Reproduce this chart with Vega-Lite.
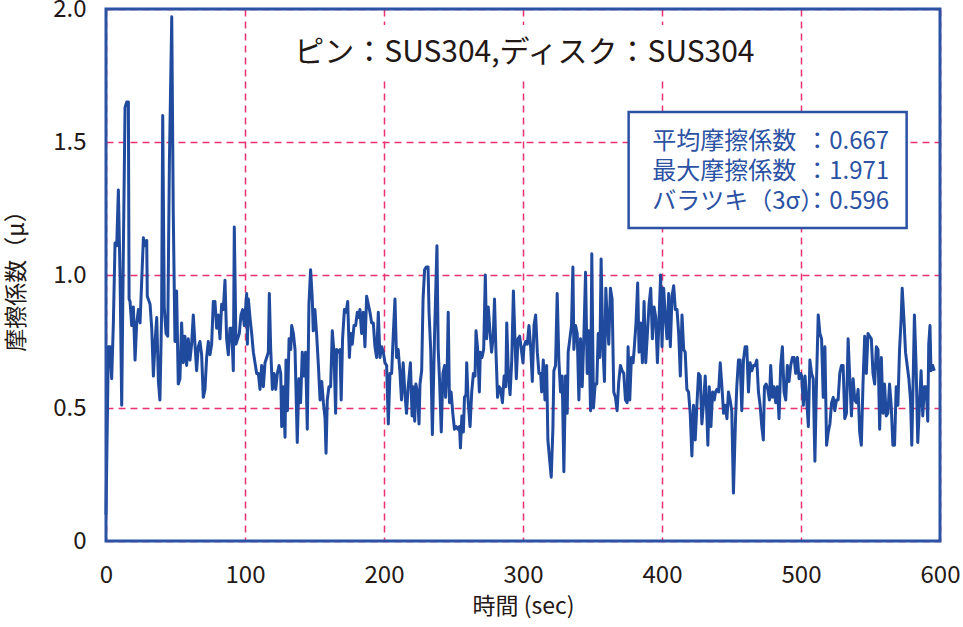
{
  "$schema": "https://vega.github.io/schema/vega-lite/v6.json",
  "width": 834,
  "height": 532,
  "autosize": {"type": "none"},
  "padding": {"left": 106, "top": 9, "right": 23, "bottom": 86},
  "background": "white",
  "config": {
    "view": {"stroke": null},
    "font": "Noto Sans CJK JP",
    "axis": {
      "domain": false,
      "ticks": false,
      "grid": true,
      "gridColor": "#e8336e",
      "gridDash": [7, 5],
      "gridWidth": 1.5,
      "labelFlush": false,
      "labelFont": "Noto Sans CJK JP",
      "labelFontSize": 24,
      "labelColor": "#231815",
      "titleFont": "Noto Sans CJK JP",
      "titleFontSize": 23,
      "titleFontWeight": "normal",
      "titleColor": "#231815"
    }
  },
  "datasets": {
    "friction": [
      {"sec": 0, "mu": 0.10}, {"sec": 1.7, "mu": 0.73}, {"sec": 2.9, "mu": 0.73}, {"sec": 4.1, "mu": 0.61},
      {"sec": 5.3, "mu": 0.82}, {"sec": 6.5, "mu": 1.12}, {"sec": 7.7, "mu": 1.11}, {"sec": 8.9, "mu": 1.32},
      {"sec": 10.1, "mu": 1.00}, {"sec": 11.3, "mu": 0.51}, {"sec": 12.5, "mu": 1.10}, {"sec": 13.7, "mu": 1.63},
      {"sec": 14.9, "mu": 1.65}, {"sec": 16.1, "mu": 1.65}, {"sec": 16.6, "mu": 0.91}, {"sec": 17.3, "mu": 0.90},
      {"sec": 18.5, "mu": 0.81}, {"sec": 19.7, "mu": 0.88}, {"sec": 20.9, "mu": 0.68}, {"sec": 22.1, "mu": 0.82},
      {"sec": 23.3, "mu": 0.87}, {"sec": 24.5, "mu": 0.82}, {"sec": 25.7, "mu": 0.98}, {"sec": 26.9, "mu": 1.14},
      {"sec": 28.1, "mu": 1.11}, {"sec": 29.3, "mu": 1.13}, {"sec": 29.7, "mu": 0.92}, {"sec": 31.7, "mu": 0.89},
      {"sec": 32.9, "mu": 0.80}, {"sec": 34.1, "mu": 0.62}, {"sec": 35.3, "mu": 0.75}, {"sec": 36.5, "mu": 0.84},
      {"sec": 37.7, "mu": 0.60}, {"sec": 38.8, "mu": 0.53}, {"sec": 40.0, "mu": 0.85}, {"sec": 40.8, "mu": 1.60},
      {"sec": 41.9, "mu": 0.88}, {"sec": 43.2, "mu": 0.78}, {"sec": 44.4, "mu": 0.77}, {"sec": 45.6, "mu": 1.42},
      {"sec": 47.3, "mu": 1.971}, {"sec": 48.4, "mu": 1.23}, {"sec": 49.6, "mu": 0.75}, {"sec": 50.8, "mu": 0.94},
      {"sec": 52.0, "mu": 0.59}, {"sec": 53.2, "mu": 0.61}, {"sec": 54.4, "mu": 0.82}, {"sec": 55.6, "mu": 0.67},
      {"sec": 56.8, "mu": 0.77}, {"sec": 58.0, "mu": 0.66}, {"sec": 59.2, "mu": 0.76}, {"sec": 60.4, "mu": 0.68},
      {"sec": 61.6, "mu": 0.74}, {"sec": 62.8, "mu": 0.85}, {"sec": 64.0, "mu": 0.74}, {"sec": 65.2, "mu": 0.64},
      {"sec": 66.4, "mu": 0.73}, {"sec": 67.6, "mu": 0.75}, {"sec": 68.8, "mu": 0.70}, {"sec": 70.0, "mu": 0.54},
      {"sec": 71.2, "mu": 0.57}, {"sec": 72.4, "mu": 0.69}, {"sec": 73.6, "mu": 0.75}, {"sec": 74.8, "mu": 0.70},
      {"sec": 76.0, "mu": 0.74}, {"sec": 77.2, "mu": 0.90}, {"sec": 78.4, "mu": 0.90}, {"sec": 79.6, "mu": 0.80},
      {"sec": 80.8, "mu": 0.85}, {"sec": 82.0, "mu": 0.76}, {"sec": 83.2, "mu": 0.89}, {"sec": 84.4, "mu": 0.87},
      {"sec": 85.6, "mu": 0.98}, {"sec": 86.8, "mu": 0.76}, {"sec": 88.0, "mu": 0.70}, {"sec": 89.2, "mu": 0.80},
      {"sec": 90.4, "mu": 0.80}, {"sec": 91.6, "mu": 0.64}, {"sec": 92.3, "mu": 1.18}, {"sec": 93.5, "mu": 0.74},
      {"sec": 94.7, "mu": 0.76}, {"sec": 95.9, "mu": 0.78}, {"sec": 97.1, "mu": 0.85}, {"sec": 98.3, "mu": 0.87},
      {"sec": 99.5, "mu": 0.81}, {"sec": 101.2, "mu": 0.93}, {"sec": 101.7, "mu": 0.74}, {"sec": 102.4, "mu": 0.91},
      {"sec": 103.6, "mu": 0.84}, {"sec": 104.8, "mu": 0.78}, {"sec": 106.0, "mu": 0.71}, {"sec": 107.2, "mu": 0.67},
      {"sec": 108.4, "mu": 0.63}, {"sec": 109.6, "mu": 0.63}, {"sec": 110.8, "mu": 0.57}, {"sec": 112.0, "mu": 0.66},
      {"sec": 113.2, "mu": 0.58}, {"sec": 114.4, "mu": 0.67}, {"sec": 115.6, "mu": 0.69}, {"sec": 116.8, "mu": 0.71},
      {"sec": 117.5, "mu": 0.93}, {"sec": 118.5, "mu": 0.72}, {"sec": 119.7, "mu": 0.57}, {"sec": 120.9, "mu": 0.63},
      {"sec": 122.1, "mu": 0.57}, {"sec": 123.3, "mu": 0.63}, {"sec": 124.5, "mu": 0.66}, {"sec": 125.7, "mu": 0.63},
      {"sec": 126.4, "mu": 0.43}, {"sec": 127.6, "mu": 0.58}, {"sec": 128.8, "mu": 0.39}, {"sec": 129.5, "mu": 0.68},
      {"sec": 130.5, "mu": 0.49}, {"sec": 131.7, "mu": 0.76}, {"sec": 132.9, "mu": 0.72}, {"sec": 133.6, "mu": 0.81},
      {"sec": 134.8, "mu": 0.78}, {"sec": 136.0, "mu": 0.72}, {"sec": 137.6, "mu": 0.37}, {"sec": 138.8, "mu": 0.61},
      {"sec": 140.0, "mu": 0.52}, {"sec": 141.2, "mu": 0.71}, {"sec": 142.4, "mu": 0.62}, {"sec": 143.6, "mu": 0.71},
      {"sec": 144.8, "mu": 0.42}, {"sec": 146.0, "mu": 0.89}, {"sec": 147.2, "mu": 1.02}, {"sec": 148.4, "mu": 0.91},
      {"sec": 149.1, "mu": 0.79}, {"sec": 150.3, "mu": 0.87}, {"sec": 151.5, "mu": 0.78}, {"sec": 152.8, "mu": 0.66},
      {"sec": 154.0, "mu": 0.53}, {"sec": 155.2, "mu": 0.60}, {"sec": 156.4, "mu": 0.52}, {"sec": 157.6, "mu": 0.46},
      {"sec": 158.3, "mu": 0.33}, {"sec": 159.2, "mu": 0.53}, {"sec": 160.4, "mu": 0.58}, {"sec": 161.6, "mu": 0.58},
      {"sec": 162.8, "mu": 0.79}, {"sec": 164.0, "mu": 0.71}, {"sec": 165.2, "mu": 0.48}, {"sec": 165.9, "mu": 0.72},
      {"sec": 167.1, "mu": 0.71}, {"sec": 168.3, "mu": 0.72}, {"sec": 169.2, "mu": 0.53}, {"sec": 170.2, "mu": 0.76},
      {"sec": 171.5, "mu": 0.87}, {"sec": 172.7, "mu": 0.86}, {"sec": 173.9, "mu": 0.90}, {"sec": 175.1, "mu": 0.69},
      {"sec": 176.0, "mu": 0.78}, {"sec": 177.2, "mu": 0.74}, {"sec": 178.4, "mu": 0.81}, {"sec": 179.6, "mu": 0.81},
      {"sec": 180.8, "mu": 0.86}, {"sec": 182.0, "mu": 0.84}, {"sec": 182.7, "mu": 0.87}, {"sec": 183.9, "mu": 0.78},
      {"sec": 185.1, "mu": 0.86}, {"sec": 186.3, "mu": 0.73}, {"sec": 187.5, "mu": 0.92}, {"sec": 188.7, "mu": 0.89},
      {"sec": 189.9, "mu": 0.86}, {"sec": 191.1, "mu": 0.82}, {"sec": 192.3, "mu": 0.82}, {"sec": 193.5, "mu": 0.73},
      {"sec": 194.7, "mu": 0.69}, {"sec": 195.9, "mu": 0.86}, {"sec": 197.1, "mu": 0.69}, {"sec": 198.3, "mu": 0.73},
      {"sec": 199.5, "mu": 0.71}, {"sec": 200.7, "mu": 0.67}, {"sec": 201.9, "mu": 0.66}, {"sec": 203.1, "mu": 0.44},
      {"sec": 204.3, "mu": 0.63}, {"sec": 205.5, "mu": 0.63}, {"sec": 206.7, "mu": 0.78}, {"sec": 207.9, "mu": 0.91},
      {"sec": 209.0, "mu": 0.69}, {"sec": 210.2, "mu": 0.72}, {"sec": 211.4, "mu": 0.64}, {"sec": 212.6, "mu": 0.53},
      {"sec": 213.8, "mu": 0.67}, {"sec": 215.0, "mu": 0.56}, {"sec": 216.2, "mu": 0.48}, {"sec": 217.4, "mu": 0.58},
      {"sec": 219.0, "mu": 0.67}, {"sec": 220.2, "mu": 0.47}, {"sec": 221.0, "mu": 0.58}, {"sec": 222.1, "mu": 0.45},
      {"sec": 222.9, "mu": 0.59}, {"sec": 224.0, "mu": 0.56}, {"sec": 225.2, "mu": 0.44}, {"sec": 225.9, "mu": 0.59},
      {"sec": 227.1, "mu": 0.64}, {"sec": 228.1, "mu": 0.91}, {"sec": 229.2, "mu": 1.02}, {"sec": 230.4, "mu": 1.03},
      {"sec": 231.7, "mu": 1.03}, {"sec": 232.4, "mu": 0.86}, {"sec": 233.6, "mu": 0.72}, {"sec": 234.8, "mu": 0.40},
      {"sec": 236.4, "mu": 0.78}, {"sec": 238.1, "mu": 1.11}, {"sec": 239.0, "mu": 0.72}, {"sec": 240.0, "mu": 0.60},
      {"sec": 241.2, "mu": 0.41}, {"sec": 242.4, "mu": 0.63}, {"sec": 243.6, "mu": 0.66}, {"sec": 244.3, "mu": 0.54},
      {"sec": 245.5, "mu": 0.66}, {"sec": 246.2, "mu": 0.86}, {"sec": 247.1, "mu": 0.52}, {"sec": 248.3, "mu": 0.56},
      {"sec": 249.5, "mu": 0.48}, {"sec": 250.7, "mu": 0.42}, {"sec": 251.9, "mu": 0.43}, {"sec": 253.1, "mu": 0.42},
      {"sec": 254.3, "mu": 0.43}, {"sec": 255.0, "mu": 0.35}, {"sec": 256.0, "mu": 0.47}, {"sec": 257.1, "mu": 0.41},
      {"sec": 257.9, "mu": 0.54}, {"sec": 259.0, "mu": 0.55}, {"sec": 259.5, "mu": 0.67}, {"sec": 260.5, "mu": 0.53},
      {"sec": 261.9, "mu": 0.43}, {"sec": 263.1, "mu": 0.56}, {"sec": 264.3, "mu": 0.63}, {"sec": 265.5, "mu": 0.62},
      {"sec": 266.2, "mu": 0.79}, {"sec": 267.4, "mu": 0.72}, {"sec": 268.6, "mu": 0.56}, {"sec": 269.3, "mu": 0.71},
      {"sec": 270.5, "mu": 0.69}, {"sec": 271.7, "mu": 0.72}, {"sec": 272.9, "mu": 1.00}, {"sec": 273.8, "mu": 0.76},
      {"sec": 275.0, "mu": 0.88}, {"sec": 276.2, "mu": 0.79}, {"sec": 277.4, "mu": 0.71}, {"sec": 278.6, "mu": 0.77},
      {"sec": 279.5, "mu": 0.91}, {"sec": 280.5, "mu": 0.72}, {"sec": 281.7, "mu": 0.54}, {"sec": 282.9, "mu": 0.58},
      {"sec": 284.0, "mu": 0.57}, {"sec": 285.2, "mu": 0.52}, {"sec": 286.4, "mu": 0.62}, {"sec": 287.6, "mu": 0.58},
      {"sec": 288.3, "mu": 0.82}, {"sec": 289.5, "mu": 0.62}, {"sec": 290.7, "mu": 0.55}, {"sec": 291.9, "mu": 0.68},
      {"sec": 293.1, "mu": 0.94}, {"sec": 294.0, "mu": 0.79}, {"sec": 295.2, "mu": 0.61}, {"sec": 296.4, "mu": 0.76},
      {"sec": 297.6, "mu": 0.77}, {"sec": 298.8, "mu": 0.72}, {"sec": 300.0, "mu": 0.67}, {"sec": 300.7, "mu": 0.73},
      {"sec": 301.9, "mu": 0.75}, {"sec": 303.1, "mu": 0.74}, {"sec": 304.3, "mu": 0.81}, {"sec": 305.5, "mu": 0.73},
      {"sec": 306.7, "mu": 0.60}, {"sec": 307.9, "mu": 0.81}, {"sec": 309.1, "mu": 0.85}, {"sec": 310.3, "mu": 0.71},
      {"sec": 311.5, "mu": 0.63}, {"sec": 312.7, "mu": 0.63}, {"sec": 313.4, "mu": 0.56}, {"sec": 314.6, "mu": 0.68},
      {"sec": 315.8, "mu": 0.53}, {"sec": 317.0, "mu": 0.66}, {"sec": 317.9, "mu": 0.38}, {"sec": 319.1, "mu": 0.31},
      {"sec": 320.3, "mu": 0.24}, {"sec": 321.5, "mu": 0.42}, {"sec": 322.2, "mu": 0.64}, {"sec": 323.4, "mu": 0.66},
      {"sec": 324.6, "mu": 0.93}, {"sec": 325.8, "mu": 0.68}, {"sec": 327.0, "mu": 0.56}, {"sec": 328.2, "mu": 0.62},
      {"sec": 329.4, "mu": 0.26}, {"sec": 330.6, "mu": 0.62}, {"sec": 331.8, "mu": 0.48}, {"sec": 332.5, "mu": 0.71},
      {"sec": 333.7, "mu": 0.76}, {"sec": 334.9, "mu": 0.81}, {"sec": 335.9, "mu": 1.03}, {"sec": 336.6, "mu": 0.72},
      {"sec": 337.8, "mu": 0.81}, {"sec": 339.0, "mu": 0.78}, {"sec": 340.2, "mu": 0.53}, {"sec": 341.4, "mu": 0.76},
      {"sec": 342.6, "mu": 0.58}, {"sec": 343.8, "mu": 0.77}, {"sec": 345.0, "mu": 1.01}, {"sec": 346.2, "mu": 0.63},
      {"sec": 347.4, "mu": 0.79}, {"sec": 348.6, "mu": 0.49}, {"sec": 349.5, "mu": 1.08}, {"sec": 350.7, "mu": 0.50},
      {"sec": 351.9, "mu": 0.59}, {"sec": 353.1, "mu": 0.59}, {"sec": 354.1, "mu": 0.78}, {"sec": 355.3, "mu": 0.69},
      {"sec": 356.2, "mu": 1.06}, {"sec": 357.4, "mu": 0.74}, {"sec": 358.6, "mu": 0.60}, {"sec": 359.6, "mu": 0.95},
      {"sec": 360.5, "mu": 0.84}, {"sec": 361.7, "mu": 0.74}, {"sec": 362.9, "mu": 0.95}, {"sec": 364.1, "mu": 0.91},
      {"sec": 365.3, "mu": 0.56}, {"sec": 366.5, "mu": 0.54}, {"sec": 367.7, "mu": 0.49}, {"sec": 368.9, "mu": 0.60},
      {"sec": 370.1, "mu": 0.66}, {"sec": 371.3, "mu": 0.64}, {"sec": 372.5, "mu": 0.63}, {"sec": 373.7, "mu": 0.53},
      {"sec": 374.9, "mu": 0.52}, {"sec": 375.6, "mu": 0.73}, {"sec": 376.8, "mu": 0.53}, {"sec": 378.0, "mu": 0.69},
      {"sec": 379.2, "mu": 0.67}, {"sec": 380.1, "mu": 0.73}, {"sec": 381.3, "mu": 0.82}, {"sec": 382.5, "mu": 0.97},
      {"sec": 383.5, "mu": 0.71}, {"sec": 384.7, "mu": 0.82}, {"sec": 385.9, "mu": 0.67}, {"sec": 387.1, "mu": 0.90},
      {"sec": 388.3, "mu": 0.67}, {"sec": 389.5, "mu": 0.78}, {"sec": 390.7, "mu": 0.89}, {"sec": 391.9, "mu": 0.95},
      {"sec": 393.1, "mu": 0.76}, {"sec": 394.3, "mu": 0.88}, {"sec": 395.5, "mu": 0.84}, {"sec": 396.7, "mu": 0.67},
      {"sec": 397.9, "mu": 0.84}, {"sec": 399.0, "mu": 1.00}, {"sec": 400.0, "mu": 0.73}, {"sec": 401.2, "mu": 0.95},
      {"sec": 402.4, "mu": 0.84}, {"sec": 403.6, "mu": 0.76}, {"sec": 404.8, "mu": 0.93}, {"sec": 406.0, "mu": 0.73},
      {"sec": 407.2, "mu": 0.92}, {"sec": 408.4, "mu": 0.96}, {"sec": 409.6, "mu": 0.87}, {"sec": 410.8, "mu": 0.87},
      {"sec": 412.0, "mu": 0.78}, {"sec": 413.2, "mu": 0.62}, {"sec": 414.4, "mu": 0.85}, {"sec": 415.6, "mu": 0.72},
      {"sec": 416.7, "mu": 0.71}, {"sec": 417.9, "mu": 0.57}, {"sec": 419.1, "mu": 0.56}, {"sec": 420.3, "mu": 0.48},
      {"sec": 421.5, "mu": 0.32}, {"sec": 422.7, "mu": 0.51}, {"sec": 423.9, "mu": 0.38}, {"sec": 425.1, "mu": 0.51},
      {"sec": 426.3, "mu": 0.63}, {"sec": 427.5, "mu": 0.62}, {"sec": 428.7, "mu": 0.44}, {"sec": 429.9, "mu": 0.52},
      {"sec": 431.1, "mu": 0.62}, {"sec": 432.3, "mu": 0.47}, {"sec": 433.0, "mu": 0.36}, {"sec": 434.0, "mu": 0.58},
      {"sec": 435.2, "mu": 0.43}, {"sec": 436.4, "mu": 0.56}, {"sec": 437.6, "mu": 0.53}, {"sec": 438.5, "mu": 0.56},
      {"sec": 439.5, "mu": 0.57}, {"sec": 440.7, "mu": 0.56}, {"sec": 441.9, "mu": 0.67}, {"sec": 443.1, "mu": 0.58},
      {"sec": 444.3, "mu": 0.48}, {"sec": 445.5, "mu": 0.51}, {"sec": 446.7, "mu": 0.46}, {"sec": 447.8, "mu": 0.56},
      {"sec": 449.0, "mu": 0.53}, {"sec": 450.2, "mu": 0.49}, {"sec": 451.4, "mu": 0.18}, {"sec": 452.9, "mu": 0.46},
      {"sec": 453.8, "mu": 0.58}, {"sec": 455.0, "mu": 0.68}, {"sec": 456.2, "mu": 0.68}, {"sec": 457.4, "mu": 0.49},
      {"sec": 458.6, "mu": 0.68}, {"sec": 459.8, "mu": 0.73}, {"sec": 461.0, "mu": 0.73}, {"sec": 462.2, "mu": 0.56},
      {"sec": 463.4, "mu": 0.67}, {"sec": 464.6, "mu": 0.64}, {"sec": 465.8, "mu": 0.66}, {"sec": 467.0, "mu": 0.66},
      {"sec": 468.2, "mu": 0.68}, {"sec": 469.4, "mu": 0.56}, {"sec": 470.6, "mu": 0.51}, {"sec": 471.8, "mu": 0.43},
      {"sec": 472.9, "mu": 0.38}, {"sec": 473.7, "mu": 0.58}, {"sec": 474.9, "mu": 0.59}, {"sec": 476.1, "mu": 0.57},
      {"sec": 477.3, "mu": 0.53}, {"sec": 478.2, "mu": 0.66}, {"sec": 479.4, "mu": 0.54}, {"sec": 480.6, "mu": 0.58},
      {"sec": 481.8, "mu": 0.52}, {"sec": 483.0, "mu": 0.58}, {"sec": 484.2, "mu": 0.46}, {"sec": 485.4, "mu": 0.66},
      {"sec": 486.6, "mu": 0.73}, {"sec": 487.8, "mu": 0.56}, {"sec": 489.0, "mu": 0.53}, {"sec": 490.2, "mu": 0.66},
      {"sec": 491.4, "mu": 0.60}, {"sec": 492.6, "mu": 0.66}, {"sec": 493.8, "mu": 0.69}, {"sec": 495.0, "mu": 0.69},
      {"sec": 496.2, "mu": 0.63}, {"sec": 497.4, "mu": 0.69}, {"sec": 498.6, "mu": 0.61}, {"sec": 499.8, "mu": 0.63},
      {"sec": 500.5, "mu": 0.62}, {"sec": 501.7, "mu": 0.51}, {"sec": 502.9, "mu": 0.62}, {"sec": 504.1, "mu": 0.53},
      {"sec": 505.3, "mu": 0.43}, {"sec": 506.4, "mu": 0.68}, {"sec": 507.6, "mu": 0.63}, {"sec": 508.8, "mu": 0.61},
      {"sec": 510.0, "mu": 0.30}, {"sec": 511.2, "mu": 0.61}, {"sec": 512.4, "mu": 0.85}, {"sec": 513.6, "mu": 0.78},
      {"sec": 514.8, "mu": 0.76}, {"sec": 516.0, "mu": 0.54}, {"sec": 517.2, "mu": 0.73}, {"sec": 518.4, "mu": 0.36},
      {"sec": 519.6, "mu": 0.41}, {"sec": 520.8, "mu": 0.44}, {"sec": 522.0, "mu": 0.52}, {"sec": 523.2, "mu": 0.54},
      {"sec": 524.3, "mu": 0.49}, {"sec": 525.5, "mu": 0.53}, {"sec": 526.7, "mu": 0.53}, {"sec": 527.9, "mu": 0.63},
      {"sec": 529.1, "mu": 0.66}, {"sec": 530.3, "mu": 0.66}, {"sec": 531.5, "mu": 0.46}, {"sec": 532.7, "mu": 0.48},
      {"sec": 533.9, "mu": 0.76}, {"sec": 535.1, "mu": 0.61}, {"sec": 536.3, "mu": 0.47}, {"sec": 537.5, "mu": 0.61},
      {"sec": 538.7, "mu": 0.53}, {"sec": 539.9, "mu": 0.52}, {"sec": 541.1, "mu": 0.57}, {"sec": 542.2, "mu": 0.41},
      {"sec": 543.4, "mu": 0.36}, {"sec": 544.6, "mu": 0.59}, {"sec": 545.8, "mu": 0.77}, {"sec": 547.0, "mu": 0.63},
      {"sec": 548.2, "mu": 0.78}, {"sec": 549.4, "mu": 0.77}, {"sec": 550.6, "mu": 0.76}, {"sec": 551.8, "mu": 0.63},
      {"sec": 553.0, "mu": 0.59}, {"sec": 554.2, "mu": 0.73}, {"sec": 555.4, "mu": 0.72}, {"sec": 556.6, "mu": 0.42},
      {"sec": 557.8, "mu": 0.69}, {"sec": 559.0, "mu": 0.48}, {"sec": 560.1, "mu": 0.59}, {"sec": 561.3, "mu": 0.47},
      {"sec": 562.5, "mu": 0.48}, {"sec": 563.7, "mu": 0.59}, {"sec": 564.9, "mu": 0.51}, {"sec": 566.1, "mu": 0.36},
      {"sec": 567.3, "mu": 0.36}, {"sec": 568.5, "mu": 0.58}, {"sec": 569.7, "mu": 0.51}, {"sec": 570.9, "mu": 0.72},
      {"sec": 572.1, "mu": 0.84}, {"sec": 572.8, "mu": 0.95}, {"sec": 574.0, "mu": 0.84}, {"sec": 575.2, "mu": 0.71},
      {"sec": 576.4, "mu": 0.66}, {"sec": 577.6, "mu": 0.61}, {"sec": 578.8, "mu": 0.53}, {"sec": 579.7, "mu": 0.36},
      {"sec": 580.9, "mu": 0.66}, {"sec": 581.6, "mu": 0.85}, {"sec": 582.8, "mu": 0.66}, {"sec": 584.0, "mu": 0.37},
      {"sec": 585.2, "mu": 0.51}, {"sec": 586.4, "mu": 0.64}, {"sec": 587.6, "mu": 0.47}, {"sec": 588.8, "mu": 0.58},
      {"sec": 590.0, "mu": 0.58}, {"sec": 591.2, "mu": 0.45}, {"sec": 591.9, "mu": 0.74}, {"sec": 592.8, "mu": 0.81},
      {"sec": 593.5, "mu": 0.64}, {"sec": 594.7, "mu": 0.66}, {"sec": 595.9, "mu": 0.64}
    ],
    "stats": [
      {"label": "平均摩擦係数", "value": "：0.667"},
      {"label": "最大摩擦係数", "value": "：1.971"},
      {"label": "バラツキ（3σ）", "value": "：0.596"}
    ]
  },
  "layer": [
    {
      "data": {"values": [{}]},
      "mark": {"type": "rect", "fill": "white"},
      "encoding": {
        "x": {"datum": 135, "type": "quantitative"},
        "x2": {"datum": 468},
        "y": {"datum": 1.74, "type": "quantitative"},
        "y2": {"datum": 1.94}
      }
    },
    {
      "data": {"name": "friction"},
      "mark": {"type": "line", "color": "#1f4a9e", "strokeWidth": 3, "strokeJoin": "round"},
      "encoding": {
        "x": {
          "field": "sec",
          "type": "quantitative",
          "scale": {"domain": [0, 600], "nice": false},
          "axis": {"values": [0, 100, 200, 300, 400, 500, 600], "labelPadding": 22, "titlePadding": 8},
          "title": "時間 (sec)"
        },
        "y": {
          "field": "mu",
          "type": "quantitative",
          "scale": {"domain": [0, 2], "nice": false},
          "axis": {
            "values": [0, 0.5, 1, 1.5, 2],
            "labelExpr": "datum.value == 0 ? '0' : format(datum.value, '.1f')",
            "labelPadding": 20,
            "titlePadding": 24
          },
          "title": "摩擦係数（μ）"
        }
      }
    },
    {
      "data": {"values": [{"t": "ピン：SUS304,ディスク：SUS304"}]},
      "mark": {"type": "text", "fontSize": 30, "color": "#231815", "align": "center", "baseline": "middle"},
      "encoding": {
        "x": {"datum": 301},
        "y": {"datum": 1.835},
        "text": {"field": "t"}
      }
    },
    {
      "data": {"values": [{}]},
      "mark": {"type": "rect", "fill": "white", "stroke": "#2b52a3", "strokeWidth": 2.5},
      "encoding": {
        "x": {"datum": 376},
        "x2": {"datum": 576},
        "y": {"datum": 1.613},
        "y2": {"datum": 1.177}
      }
    },
    {
      "data": {"name": "stats"},
      "transform": [
        {"aggregate": [{"op": "values", "as": "rows"}]},
        {"calculate": "pluck(datum.rows, 'label')", "as": "labels"},
        {"calculate": "pluck(datum.rows, 'value')", "as": "values"}
      ],
      "layer": [
        {
          "mark": {"type": "text", "fontSize": 24, "color": "#2b52a3", "align": "left", "baseline": "middle", "lineHeight": 30},
          "encoding": {
            "x": {"datum": 393},
            "y": {"datum": 1.5},
            "text": {"field": "labels"}
          }
        },
        {
          "mark": {"type": "text", "fontSize": 24, "color": "#2b52a3", "align": "left", "baseline": "middle", "lineHeight": 30},
          "encoding": {
            "x": {"datum": 503},
            "y": {"datum": 1.5},
            "text": {"field": "values"}
          }
        }
      ]
    },
    {
      "data": {"values": [{}]},
      "mark": {"type": "rect", "fillOpacity": 0, "stroke": "#2b52a3", "strokeWidth": 3},
      "encoding": {
        "x": {"datum": 0},
        "x2": {"datum": 600},
        "y": {"datum": 0},
        "y2": {"datum": 2}
      }
    }
  ]
}
